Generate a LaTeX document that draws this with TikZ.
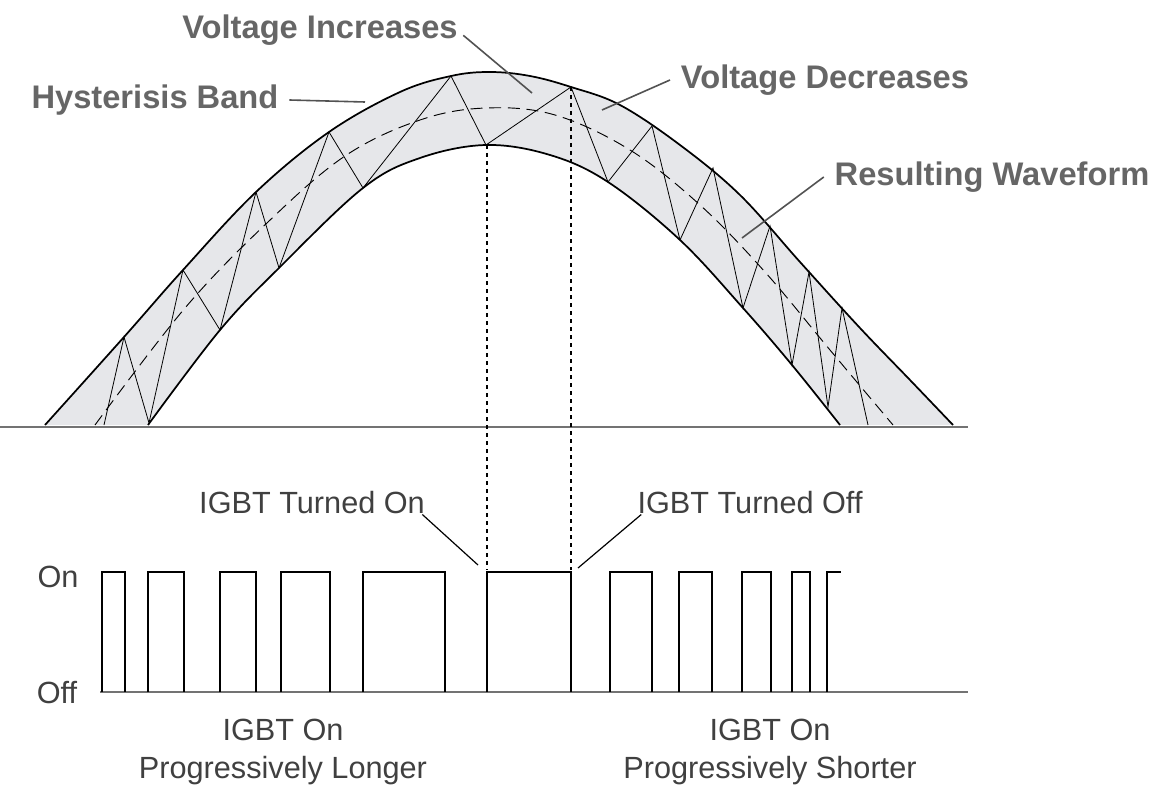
\documentclass[tikz,border=0pt]{standalone}
\usepackage{fontspec}
\setmainfont{Liberation Sans}
\usetikzlibrary{positioning}
\definecolor{labelgray}{HTML}{666666}
\definecolor{bandgray}{HTML}{E6E7EA}

\begin{document}
\begin{tikzpicture}[x=0.75pt, y=-0.75pt, >=stealth,
    curve/.style={line width=1.3pt},
    zig/.style={line width=0.6pt},
    callout/.style={line width=1.2pt, labelgray!80!black},
    bigtag/.style={font=\fontsize{24.5}{28}\selectfont\bfseries, text=labelgray, inner sep=0pt},
    smalltag/.style={font=\fontsize{23}{28}\selectfont, text=black!75, inner sep=0pt}]
        \useasboundingbox (0,0) rectangle (1170,806);

        % Hysteresis band
        \fill[bandgray] plot[smooth, tension=0.6] coordinates {(45,425) (124,337) (183,270) (256,192)
                (329,132) (400,92) (451,76) (490,72) (530,76) (571,87) (620,105) (680,145)
                (740,195) (800,262) (860,328) (910,380) (953,425)}
            -- plot[smooth, tension=0.6] coordinates {(840,425) (792,365) (743,308) (680,240)
                (608,182) (550,155) (486,145) (420,158) (363,188) (279,268) (220,330) (148,425)}
            -- cycle;
        \draw[curve] plot[smooth, tension=0.6] coordinates {(45,425) (124,337) (183,270) (256,192)
                (329,132) (400,92) (451,76) (490,72) (530,76) (571,87) (620,105) (680,145)
                (740,195) (800,262) (860,328) (910,380) (953,425)};
        \draw[curve] plot[smooth, tension=0.6] coordinates {(148,425) (220,330) (279,268) (363,188)
                (420,158) (486,145) (550,155) (608,182) (680,240) (743,308) (792,365) (840,425)};
        \draw[dash pattern=on 9pt off 5pt, line width=0.7pt]
            plot[smooth, tension=0.6] coordinates {(95,425) (185,308) (268,222) (345,156)
                (420,120) (486,108) (555,115) (630,150) (700,205) (765,272) (830,350) (893,425)};

        % Resulting waveform
        \draw[zig] (104,425) -- (124,337) -- (149,423) -- (183,270) -- (220,330)
            -- (256,192) -- (279,268) -- (329,132) -- (363,188) -- (451,76)
            -- (486,145) -- (571,87) -- (608,182) -- (652,126) -- (680,240)
            -- (713,168) -- (743,308) -- (770,226) -- (792,365) -- (809,272)
            -- (828,407) -- (842,308) -- (868,425);

        % Axes
        \draw[line width=1.2pt, black!55] (0,427) -- (968,427);
        \draw[line width=1.2pt, black!55] (100,692) -- (968,692);

        % Switching instants
        \coordinate (onT) at (487,145);
        \coordinate (offT) at (571,87);
        \draw[dash pattern=on 3pt off 3pt, line width=0.8pt] (onT) -- (487,570);
        \draw[dash pattern=on 3pt off 3pt, line width=0.8pt] (offT) -- (571,570);

        % Pulses
        \foreach \a/\b in {102/125, 148/184, 220/256, 281/330, 363/445, 487/571,
                           610/652, 679/712, 742/771, 792/810}
            \draw[line width=0.8pt] (\a,692) |- (\b,572) -- (\b,692);
        \draw[line width=0.8pt] (827,692) |- (841,572);

        % Labels
        \node[bigtag] (inc) at (320,30) {Voltage Increases};
        \node[bigtag] (hyst) at (155,100) {Hysterisis Band};
        \node[bigtag] (dec) at (825,80) {Voltage Decreases};
        \node[bigtag] (res) at (992,177) {Resulting Waveform};
        \node[smalltag] (ton) at (312,503) {IGBT Turned On};
        \node[smalltag] (toff) at (750,503) {IGBT Turned Off};
        \node[smalltag] (on) at (58,577) {On};
        \node[smalltag] (off) at (57,693) {Off};
        \node[smalltag, align=center] (longer) at (283,752) {IGBT On\\Progressively Longer};
        \node[smalltag, align=center] (shorter) at (770,752) {IGBT On\\Progressively Shorter};

        % Callouts
        \coordinate (incP) at (532,93);
        \coordinate (hystP) at (365,102);
        \coordinate (decP) at (602,110);
        \coordinate (resP) at (742,238);
        \coordinate (tonP) at (478,565);
        \coordinate (toffP) at (578,568);
        \draw[callout] ([xshift=4pt,yshift=-4pt]inc.east) -- (incP);
        \draw[callout] ([xshift=8pt]hyst.east) -- (hystP);
        \draw[callout] ([xshift=-8pt]dec.west) -- (decP);
        \draw[callout] ([xshift=-8pt]res.west) -- (resP);
        \draw[line width=0.9pt] ([xshift=-2pt]ton.south east) -- (tonP);
        \draw[line width=0.9pt] ([xshift=3pt]toff.south west) -- (toffP);
    \end{tikzpicture}
\end{document}
